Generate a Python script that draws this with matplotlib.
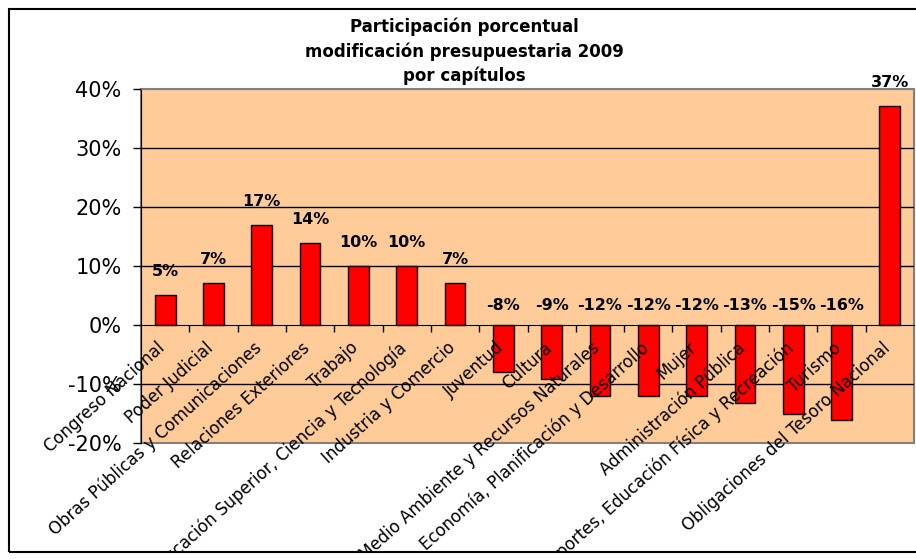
#!/usr/bin/env python3
"""Participación porcentual, modificación presupuestaria 2009 por capítulos."""

import matplotlib
matplotlib.use("Agg")
import matplotlib.pyplot as plt
from matplotlib.patches import Rectangle
from matplotlib.ticker import FuncFormatter, MultipleLocator
from matplotlib.transforms import ScaledTranslation


capitulos = [
    "Congreso Nacional",
    "Poder Judicial",
    "Obras Públicas y Comunicaciones",
    "Relaciones Exteriores",
    "Trabajo",
    "Educación Superior, Ciencia y Tecnología",
    "Industria y Comercio",
    "Juventud",
    "Cultura",
    "Medio Ambiente y Recursos Naturales",
    "Economía, Planificación y Desarrollo",
    "Mujer",
    "Administración Pública",
    "Deportes, Educación Física y Recreación",
    "Turismo",
    "Obligaciones del Tesoro Nacional",
]
participacion = [5.1, 7.1, 16.9, 13.9, 10.0, 10.0, 7.1, -8.0,
                 -9.1, -12.1, -12.1, -12.1, -13.2, -15.1, -16.1, 37.1]

TITLE = "Participación porcentual\nmodificación presupuestaria 2009\npor capítulos"
PEACH = "#FFCC99"
W, H = 916, 559


def main() -> None:
    plt.rcParams["font.family"] = ["DejaVu Sans"]
    fig = plt.figure(figsize=(W / 100, H / 100), dpi=100)
    ax = fig.add_axes([141 / W, 1 - 443 / H, (914 - 141) / W, (443 - 89) / H])
    ax.set_facecolor(PEACH)

    x = list(range(len(capitulos)))
    ax.bar(x, participacion, width=0.43, color="#FF0000",
           edgecolor="black", linewidth=1.0, zorder=1)

    ax.set_xlim(-0.5, len(capitulos) - 0.5)
    ax.set_ylim(-20, 40)
    ax.yaxis.set_major_locator(MultipleLocator(10))
    ax.yaxis.set_major_formatter(FuncFormatter(lambda v, _: f"{v:.0f}%"))
    for yv in ax.get_yticks():
        if -20 < yv < 40 and yv != 0:
            ax.axhline(yv, color="black", linewidth=1.0, zorder=0.8)

    # x axis sits on the 0% line, ticks between categories
    ax.spines["bottom"].set_position(("data", 0))
    ax.spines["bottom"].set_color("black")
    ax.spines["left"].set_color("black")
    for side in ("top", "right"):
        ax.spines[side].set_color("#808080")
    ax.patch.set_edgecolor("#808080")
    ax.patch.set_linewidth(1.5)

    # chart frame; long category names get cut off by it, as in the original
    frame = Rectangle((9 / W, 7 / H), 1.0, 543 / H, transform=fig.transFigure,
                      fill=False, edgecolor="black", linewidth=1.5, zorder=10)
    fig.add_artist(frame)

    ax.set_xticks(x)
    ax.set_xticklabels(capitulos, rotation=42, ha="right",
                       rotation_mode="anchor", fontsize=12)
    ax.tick_params(axis="x", which="major", length=0, pad=10)
    shift = ScaledTranslation(-6 / 72, 0, fig.dpi_scale_trans)
    for lbl in ax.get_xticklabels():
        lbl.set_transform(lbl.get_transform() + shift)
        lbl.set_clip_on(True)
        lbl.set_clip_path(frame)
    ax.set_xticks([i + 0.5 for i in x[:-1]], minor=True)
    ax.tick_params(axis="x", which="minor", length=5, width=1, direction="out")
    ax.tick_params(axis="y", length=6, width=1, pad=8, labelsize=15)

    for xi, v in zip(x, participacion):
        ypos = v + 4.0 if v > 0 else 3.3
        ax.text(xi, ypos, f"{v:.0f}%", ha="center", va="center",
                fontsize=11.5, fontweight="bold", zorder=5, clip_on=False)

    fig.text(464 / W, 1 - 18 / H, TITLE, ha="center", va="top",
             fontsize=12, fontweight="bold", linespacing=1.38)
    fig.savefig("out.png", dpi=100, facecolor="white")
    plt.close(fig)


if __name__ == "__main__":
    main()
